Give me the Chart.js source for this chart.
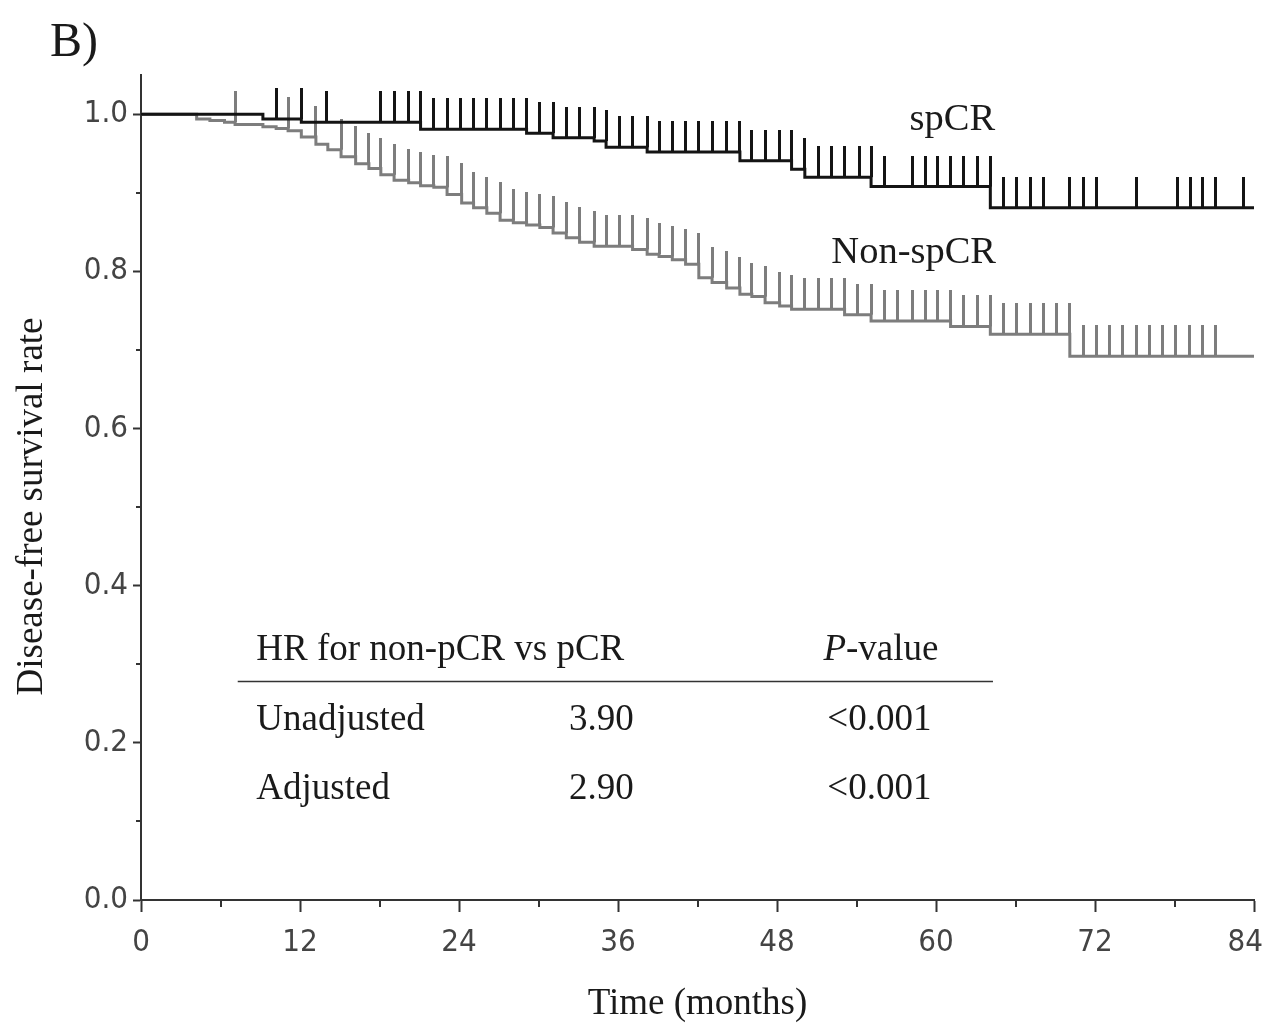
<!DOCTYPE html>
<html>
<head>
<meta charset="utf-8">
<script src="https://cdn.jsdelivr.net/npm/chart.js@4"></script>
<style>
  html, body { margin: 0; padding: 0; background: #fff; }
</style>
</head>
<body>
<canvas id="km" width="1265" height="1026"></canvas>
<script>
// Kaplan-Meier steps: time (months) and survival after the step
const spcrTimes = [0, 9.2, 12.1, 21.1, 29.1, 31.1, 34.2, 35.1, 38.2, 45.2, 49.1, 50.1, 55.1, 64.1];
const spcrSurv = [1.0, 0.994, 0.990, 0.981, 0.976, 0.970, 0.966, 0.958, 0.952, 0.941, 0.930, 0.920, 0.908, 0.881];
const spcrCensor = [10.2, 12.1, 14.0, 18.1, 19.1, 20.2, 21.1, 22.1, 23.1, 24.1, 25.1, 26.1, 27.1, 28.1,
  29.1, 30.1, 31.1, 32.1, 33.1, 34.2, 35.1, 36.1, 37.1, 38.2, 39.1, 40.1, 41.1, 42.1, 43.1, 44.2,
  45.2, 46.1, 47.1, 48.2, 49.1, 50.1, 51.1, 52.1, 53.1, 54.2, 55.1, 56.1, 58.2, 59.2, 60.1, 61.1,
  62.1, 63.1, 64.1, 65.1, 66.1, 67.1, 68.1, 70.1, 71.1, 72.1, 75.1, 78.2, 79.2, 80.1, 81.1, 83.2];

const nonTimes = [0, 4.2, 5.2, 6.3, 7.1, 9.2, 10.2, 11.1, 12.1, 13.2, 14.1, 15.1, 16.2, 17.2, 18.1,
  19.1, 20.2, 21.1, 22.1, 23.1, 24.2, 25.1, 26.1, 27.1, 28.1, 29.1, 30.1, 31.1, 32.1, 33.1, 34.2,
  37.1, 38.2, 39.1, 40.1, 41.1, 42.1, 43.1, 44.2, 45.2, 46.1, 47.1, 48.2, 49.1, 53.1, 55.1, 61.1,
  64.1, 70.1];
const nonSurv = [1.0, 0.994, 0.992, 0.990, 0.987, 0.984, 0.982, 0.979, 0.971, 0.962, 0.955, 0.946,
  0.937, 0.931, 0.923, 0.916, 0.913, 0.909, 0.907, 0.898, 0.887, 0.881, 0.874, 0.865, 0.862, 0.859,
  0.856, 0.849, 0.843, 0.837, 0.832, 0.828, 0.822, 0.819, 0.815, 0.809, 0.792, 0.786, 0.779, 0.771,
  0.768, 0.760, 0.756, 0.752, 0.745, 0.737, 0.730, 0.720, 0.692];
const nonCensor = [7.1, 11.1, 13.2, 15.1, 16.2, 17.2, 18.1, 19.1, 20.2, 21.1, 22.1, 23.1, 24.2, 25.1,
  26.1, 27.1, 28.1, 29.1, 30.1, 31.1, 32.1, 33.1, 34.2, 35.1, 36.1, 37.1, 38.2, 39.1, 40.1, 41.1,
  42.1, 43.1, 44.2, 45.2, 46.1, 47.1, 48.2, 49.1, 50.1, 51.1, 52.1, 53.1, 54.1, 55.1, 56.1, 57.1,
  58.2, 59.2, 60.1, 61.1, 62.1, 63.1, 64.1, 65.1, 66.1, 67.1, 68.1, 69.1, 70.1, 71.1, 72.1, 73.1,
  74.1, 75.1, 76.1, 77.1, 78.1, 79.1, 80.1, 81.1];

const followUpEnd = 84;

const xTicks = [0, 6, 12, 18, 24, 30, 36, 42, 48, 54, 60, 66, 72, 78, 84];
const xLabels = [0, 12, 24, 36, 48, 60, 72, 84];
const yTicks = [0, 0.1, 0.2, 0.3, 0.4, 0.5, 0.6, 0.7, 0.8, 0.9, 1.0];
const yLabels = [0, 0.2, 0.4, 0.6, 0.8, 1.0];

const hrHeader = ['HR for non-pCR vs pCR', 'P', '-value'];
const hrRows = [
  ['Unadjusted', '3.90', '<0.001'],
  ['Adjusted', '2.90', '<0.001']
];

const SERIF = "'Liberation Serif', 'Times New Roman', serif";
const TICKFONT = "'DejaVu Sans Condensed', 'DejaVu Sans', sans-serif";
const BLACK = '#141414';
const GREY = '#7d7d7d';
const AXIS = '#333333';
const TEXT = '#1a1a1a';

function curve(times, surv) {
  const pts = times.map((t, i) => ({x: t, y: surv[i]}));
  pts.push({x: followUpEnd, y: surv[surv.length - 1]});
  return pts;
}

// level of the curve just before time t (a mark at an event time sits on the old level)
function levelBefore(times, surv, t) {
  let s = surv[0];
  for (let i = 0; i < times.length; i++) {
    if (times[i] < t) s = surv[i];
  }
  return s;
}

function censorPoints(cens, times, surv) {
  return cens.map(t => ({x: t, y: levelBefore(times, surv, t)}));
}

// vertical mark drawn only above the point (image is centred on the point)
function tickMark(color, w, len) {
  const c = document.createElement('canvas');
  c.width = w;
  c.height = len * 2;
  const g = c.getContext('2d');
  g.fillStyle = color;
  g.fillRect(0, 0, w, len);
  return c;
}

const isMajorY = v => yLabels.some(l => Math.abs(l - v) < 1e-9);

const minorTicks = {
  id: 'minorTicks',
  afterDraw(chart) {
    const {ctx, scales: {x, y}} = chart;
    ctx.save();
    ctx.strokeStyle = AXIS;
    ctx.lineWidth = 2;
    ctx.beginPath();
    xTicks.filter(v => !xLabels.includes(v)).forEach(v => {
      const px = Math.round(x.getPixelForValue(v));
      ctx.moveTo(px, y.bottom);
      ctx.lineTo(px, y.bottom + 7);
    });
    yTicks.filter(v => !isMajorY(v)).forEach(v => {
      const py = Math.round(y.getPixelForValue(v));
      ctx.moveTo(x.left, py);
      ctx.lineTo(x.left - 5, py);
    });
    ctx.stroke();
    ctx.restore();
  }
};

const notes = {
  id: 'notes',
  afterDraw(chart) {
    const {ctx, scales: {x, y}} = chart;
    const X = v => x.getPixelForValue(v);
    const Y = v => y.getPixelForValue(v);
    ctx.save();
    ctx.fillStyle = TEXT;
    ctx.textBaseline = 'alphabetic';
    ctx.textAlign = 'left';

    ctx.font = '48px ' + SERIF;
    ctx.fillText('B)', 50, 56);

    // y axis title, centred a little below the middle of the axis as in the original
    ctx.save();
    ctx.translate(32, (y.top + y.bottom) / 2 + 19);
    ctx.rotate(-Math.PI / 2);
    ctx.textAlign = 'center';
    ctx.textBaseline = 'middle';
    ctx.font = '37px ' + SERIF;
    ctx.fillText('Disease-free survival rate', 0, 0);
    ctx.restore();

    ctx.font = '38.5px ' + SERIF;
    ctx.fillText('spCR', X(58.0), Y(0.980));
    ctx.fillText('Non-spCR', X(52.1), Y(0.811));

    // hazard ratio table
    ctx.font = '37px ' + SERIF;
    ctx.fillText(hrHeader[0], X(8.7), Y(0.305));
    ctx.font = 'italic 37px ' + SERIF;
    const px = X(51.5);
    ctx.fillText(hrHeader[1], px, Y(0.305));
    const pw = ctx.measureText(hrHeader[1]).width;
    ctx.font = '37px ' + SERIF;
    ctx.fillText(hrHeader[2], px + pw, Y(0.305));

    ctx.strokeStyle = '#333';
    ctx.lineWidth = 1.5;
    ctx.beginPath();
    ctx.moveTo(X(7.3), Y(0.278));
    ctx.lineTo(X(64.3), Y(0.278));
    ctx.stroke();

    const rowY = [0.217, 0.129];
    hrRows.forEach((r, i) => {
      ctx.fillText(r[0], X(8.7), Y(rowY[i]));
      ctx.fillText(r[1], X(32.3), Y(rowY[i]));
      ctx.fillText(r[2], X(51.8), Y(rowY[i]));
    });
    ctx.restore();
  }
};

new Chart(document.getElementById('km'), {
  type: 'scatter',
  data: {
    datasets: [
      {
        label: 'spCR',
        type: 'line',
        data: curve(spcrTimes, spcrSurv),
        borderColor: BLACK,
        borderWidth: 3,
        stepped: true,
        pointRadius: 0,
        fill: false,
        borderJoinStyle: 'miter',
        borderCapStyle: 'butt'
      },
      {
        label: 'spCR censored',
        data: censorPoints(spcrCensor, spcrTimes, spcrSurv),
        pointStyle: tickMark(BLACK, 3, 31),
        pointRadius: 10,
        showLine: false
      },
      {
        label: 'Non-spCR',
        type: 'line',
        data: curve(nonTimes, nonSurv),
        borderColor: GREY,
        borderWidth: 3,
        stepped: true,
        pointRadius: 0,
        fill: false,
        borderJoinStyle: 'miter',
        borderCapStyle: 'butt'
      },
      {
        label: 'Non-spCR censored',
        data: censorPoints(nonCensor, nonTimes, nonSurv),
        pointStyle: tickMark(GREY, 3, 31),
        pointRadius: 10,
        showLine: false
      }
    ]
  },
  options: {
    responsive: false,
    animation: false,
    events: [],
    layout: { padding: { top: 75, right: 11, bottom: 0, left: 0 } },
    plugins: {
      legend: { display: false },
      tooltip: { enabled: false }
    },
    scales: {
      x: {
        type: 'linear',
        min: 0,
        max: followUpEnd,
        afterBuildTicks: s => { s.ticks = xTicks.map(v => ({value: v})); },
        afterFit: s => { s.height = 126; s.paddingLeft = 0; s.paddingRight = 0; },
        grid: {
          drawOnChartArea: false,
          tickLength: 12,
          tickWidth: 2,
          tickColor: c => xLabels.includes(c.tick.value) ? AXIS : 'rgba(0,0,0,0)'
        },
        border: { color: AXIS, width: 2 },
        ticks: {
          autoSkip: false,
          maxRotation: 0,
          padding: 12,
          color: '#444444',
          font: { family: TICKFONT, size: 31 },
          // last label is pulled inside the canvas edge, as in the original
          callback: v => !xLabels.includes(v) ? '' : (v === followUpEnd ? v + '\u00a0\u00a0' : String(v))
        },
        title: {
          display: true,
          text: 'Time (months)',
          color: TEXT,
          font: { family: SERIF, size: 37 },
          padding: { top: 0, bottom: 0 }
        }
      },
      y: {
        type: 'linear',
        min: 0,
        max: 1.05,
        afterBuildTicks: s => { s.ticks = yTicks.map(v => ({value: v})); },
        afterFit: s => { s.width = 141; s.paddingTop = 0; s.paddingBottom = 0; },
        grid: {
          drawOnChartArea: false,
          tickLength: 8,
          tickWidth: 2,
          tickColor: c => isMajorY(c.tick.value) ? AXIS : 'rgba(0,0,0,0)'
        },
        border: { color: AXIS, width: 2 },
        ticks: {
          autoSkip: false,
          padding: 5,
          color: '#444444',
          font: { family: TICKFONT, size: 31 },
          callback: v => isMajorY(v) ? v.toFixed(1) : ''
        },
        title: { display: false }
      }
    }
  },
  plugins: [minorTicks, notes]
});
</script>
</body>
</html>
